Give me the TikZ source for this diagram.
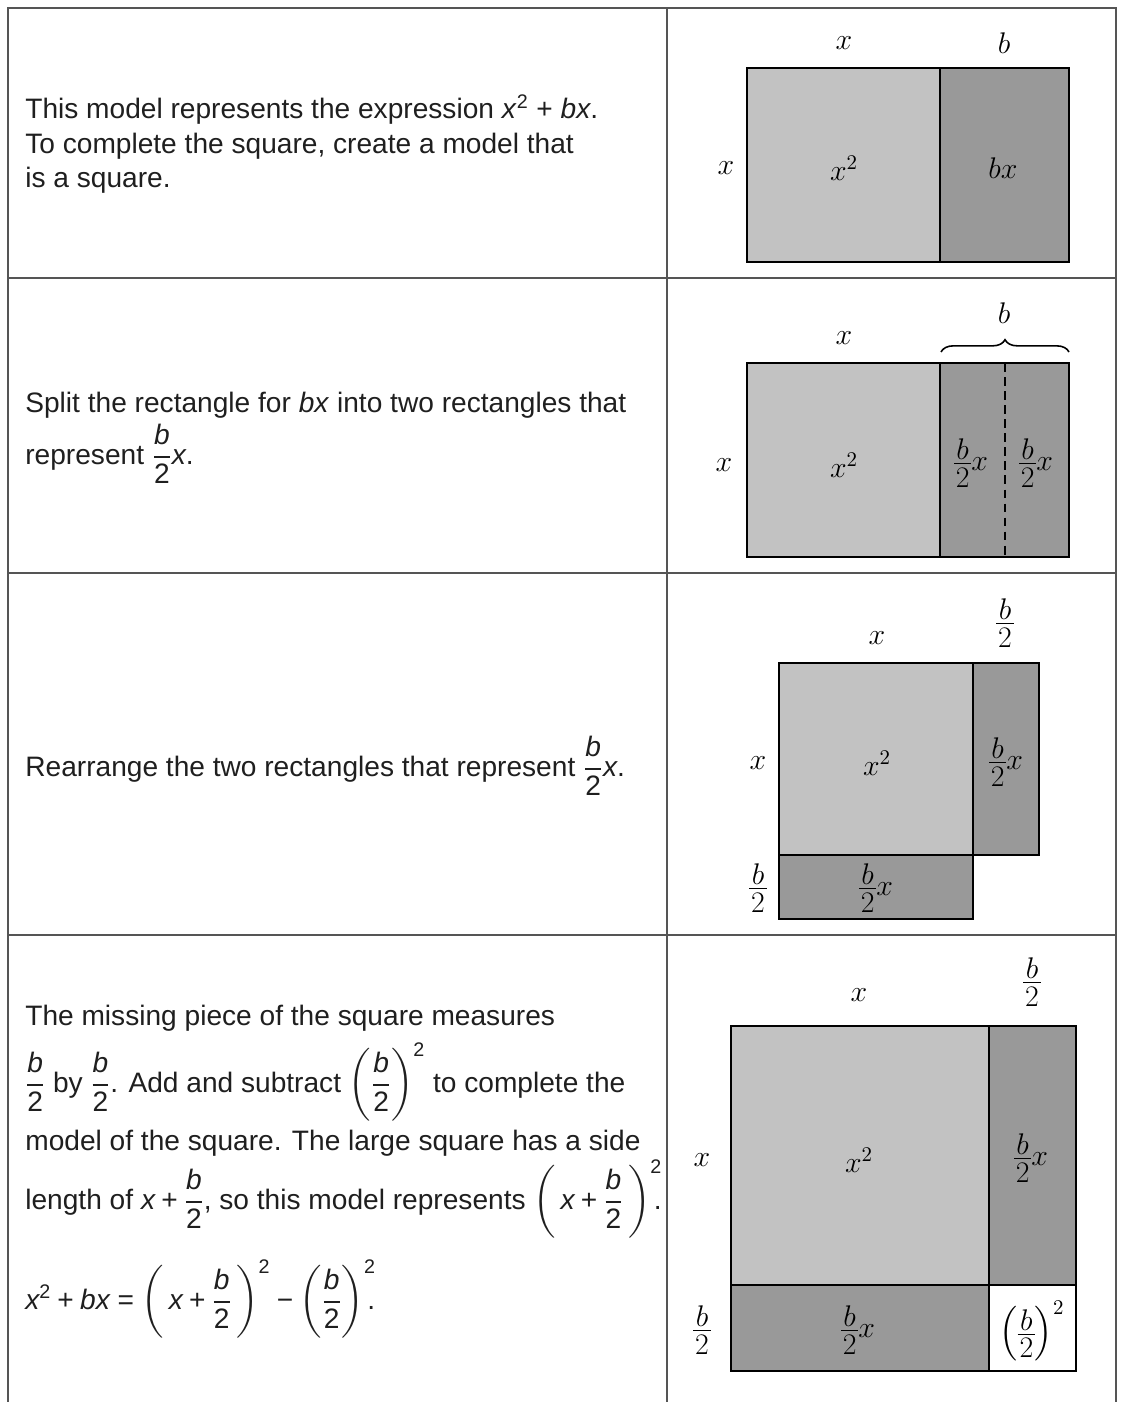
\RequirePackage{fix-cm}
\documentclass[tikz,border=0pt]{standalone}
\usepackage{amsmath}
\usepackage{fontspec}
\newfontfamily\bodyfont{Liberation Sans}
\usetikzlibrary{decorations.pathreplacing}

\definecolor{lightfill}{RGB}{194,194,194}
\definecolor{darkfill}{RGB}{153,153,153}
\definecolor{rulegray}{RGB}{85,85,85}

% sans pieces for the text column
\newcommand{\two}{\text{2}}
\newcommand{\hbt}{\dfrac{\textit{b}}{\two}}
\newcommand{\splus}{\mathbin{\text{+}}}
\newcommand{\sminus}{\mathbin{\text{−}}}
\newcommand{\seq}{\mathrel{\text{=}}}
\newcommand{\sqdot}{\kern-0.3em.}
% compact b over 2 for the area models
\newcommand{\hf}{\vcenter{\offinterlineskip\halign{\hfil\kern1pt$##$\kern1pt\hfil\cr
  b\cr\noalign{\kern2pt\hrule height0.6pt\kern2pt}2\cr}}}

\begin{document}
\begin{tikzpicture}[x=0.02cm, y=-0.02cm,
  rulel/.style={draw=rulegray, line width=0.9pt},
  box/.style={draw=black, line width=1.4pt},
  lightbox/.style={box, fill=lightfill},
  darkbox/.style={box, fill=darkfill},
  lab/.style={font=\fontsize{17}{20}\selectfont, inner sep=0pt, text=black},
  txt/.style={font=\bodyfont\fontsize{16}{19}\selectfont, anchor=base west,
    inner sep=0pt, text=black!88}]
\useasboundingbox (0,0) rectangle (1123,1402);

% table rules
\draw[rulel] (8,1402) -- (8,8) -- (1116,8) -- (1116,1402);
\draw[rulel] (667,8) -- (667,1402);
\foreach \y in {278,573,935}
  \draw[rulel] (8,\y) -- (1116,\y);

% row 1
\node[txt] (r1a) at (25,119) {This model represents the expression \textit{x}\textsuperscript{2} + \textit{bx}.};
\node[txt] (r1b) at (25,154) {To complete the square, create a model that};
\node[txt] (r1c) at (25,188) {is a square.};
\draw[lightbox] (747,68) rectangle (940,262);
\draw[darkbox] (940,68) rectangle (1069,262);
\node[lab] (xtop1) at (844,43) {$x$};
\node[lab] (btop1) at (1004,43) {$b$};
\node[lab] (xleft1) at (726,168) {$x$};
\node[lab] (sq1) at (844,168) {$x^2$};
\node[lab] (bx1) at (1003,168) {$bx$};

% row 2
\node[txt] (r2a) at (25,412) {Split the rectangle for \textit{bx} into two rectangles that};
\node[txt] (r2b) at (25,464) {represent $\hbt$\textit{x}.};
\draw[lightbox] (747,363) rectangle (940,557);
\draw[darkbox] (940,363) rectangle (1069,557);
\draw[box, dash pattern=on 5pt off 3pt] (1005,363) -- (1005,557);
\draw[line width=0.9pt, decorate, decoration={brace, amplitude=7pt}]
  (941,352) -- (1069,352);
\node[lab] (xtop2) at (844,338) {$x$};
\node[lab] (btop2) at (1004,313) {$b$};
\node[lab] (xleft2) at (724,465) {$x$};
\node[lab] (sq2) at (844,465) {$x^2$};
\node[lab] (hx2a) at (971,463) {$\hf x$};
\node[lab] (hx2b) at (1036,463) {$\hf x$};

% row 3
\node[txt] (r3a) at (25,776) {Rearrange the two rectangles that represent $\hbt$\textit{x}.};
\draw[lightbox] (779,663) rectangle (973,855);
\draw[darkbox] (973,663) rectangle (1039,855);
\draw[darkbox] (779,855) rectangle (973,919);
\node[lab] (xtop3) at (877,638) {$x$};
\node[lab] (htop3) at (1005,623) {$\hf$};
\node[lab] (xleft3) at (758,763) {$x$};
\node[lab] (sq3) at (877,763) {$x^2$};
\node[lab] (hx3a) at (1006,762) {$\hf x$};
\node[lab] (hleft3) at (758,888) {$\hf$};
\node[lab] (hx3b) at (876,888) {$\hf x$};

% row 4
\node[txt] (r4a) at (25,1025) {The missing piece of the square measures};
\node[txt] (r4b) at (25,1092) {$\hbt$ by $\hbt$. Add and subtract $\left(\hbt\right)^{\two}$\ to complete the};
\node[txt] (r4c) at (25,1150) {model of the square. The large square has a side};
\node[txt] (r4d) at (25,1209) {length of $\textit{x}\splus\hbt$, so this model represents
  $\smash{\left(\,\textit{x}\splus\hbt\,\right)^{\two}}$\sqdot};
\node[txt] (r4e) at (25,1309) {$\textit{x}^{\two}\splus\textit{bx}\seq\left(\,\textit{x}\splus\hbt\,\right)^{\two}\sminus\left(\hbt\right)^{\two}$\sqdot};
\draw[lightbox] (731,1026) rectangle (989,1285);
\draw[darkbox] (989,1026) rectangle (1076,1285);
\draw[darkbox] (731,1285) rectangle (989,1371);
\draw[box, fill=white] (989,1285) rectangle (1076,1371);
\node[lab] (xtop4) at (859,995) {$x$};
\node[lab] (htop4) at (1032,982) {$\hf$};
\node[lab] (xleft4) at (702,1160) {$x$};
\node[lab] (sq4) at (859,1160) {$x^2$};
\node[lab] (hx4a) at (1031,1158) {$\hf x$};
\node[lab] (hleft4) at (702,1330) {$\hf$};
\node[lab] (hx4b) at (858,1330) {$\hf x$};
\node[lab] (hsq4) at (1032,1331) {$\left(\hf\right)^{2}$};
\end{tikzpicture}
\end{document}
